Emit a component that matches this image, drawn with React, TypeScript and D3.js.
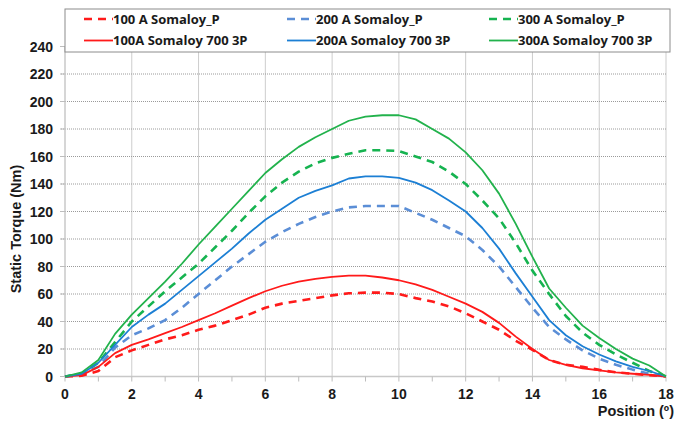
import React from 'react';
import * as d3 from 'd3';

// Rotor position (degrees)
const positions = [0, 0.5, 1, 1.5, 2, 2.5, 3, 3.5, 4, 4.5, 5, 5.5, 6, 6.5, 7, 7.5, 8, 8.5, 9, 9.5, 10, 10.5, 11, 11.5, 12, 12.5, 13, 13.5, 14, 14.5, 15, 15.5, 16, 16.5, 17, 17.5, 18];

// Static torque (Nm) per series
const p100 = [0, 0.5, 4, 14, 19, 23, 27, 30, 34, 37, 41, 45, 50, 53, 55, 57, 59, 60.5, 61, 61, 60, 57, 54.5, 51, 46, 40, 34, 26, 19.4, 12, 8.5, 7, 4.8, 3, 2, 1, 0];
const p200 = [0, 2, 7, 21, 30, 35, 41, 50, 60, 70, 80, 89, 98, 105, 111, 116, 120, 123, 124, 124, 124, 119, 114, 108, 102, 92, 80, 65, 50, 36, 27, 19, 13, 8.5, 5, 2, 0];
const p300 = [0, 2, 10, 25, 40, 51, 62, 72, 82, 94, 106, 119, 131, 141, 149, 155, 159, 162, 164.5, 164.5, 164, 160, 156, 149, 140, 128, 115, 97, 77, 60, 44, 32, 23, 16, 10, 4, 0];
const s100 = [0, 1, 7, 17, 23, 27, 31.5, 36, 41, 46, 51.5, 57, 62, 66, 69, 71, 72.5, 73.4, 73.4, 72, 70, 67, 63, 58, 53, 47, 39, 29, 20, 12, 8.5, 6, 4.4, 3, 2, 1.2, 0];
const s200 = [0, 2, 10, 23, 36, 45, 53, 63, 73, 83, 93, 104, 114, 122, 130, 135, 139, 144, 145.5, 145.5, 144.5, 141, 135.5, 128, 120, 108, 93, 75, 58, 41, 30, 22, 16, 11, 7, 4, 0];
const s300 = [0, 3, 12, 31, 45, 57, 69, 82, 96, 109, 122, 135, 148, 158, 167, 174, 180, 186, 189, 190, 190, 187, 180, 173, 163, 150, 133, 111, 87, 64, 50, 37, 28, 20, 13, 8, 0];

const seriesNames = ['100 A Somaloy_P', '200 A Somaloy_P', '300 A Somaloy_P', '100A Somaloy 700 3P', '200A Somaloy 700 3P', '300A Somaloy 700 3P'];
const seriesValues = [p100, p200, p300, s100, s200, s300];
const seriesColors = ['#ff1a1a', '#5b8ed6', '#16b350', '#ff1a1a', '#1c7fd4', '#22b24c'];
const seriesDashed = [true, true, true, false, false, false];

const yTicks = d3.range(0, 241, 20);
const xTicks = d3.range(0, 19, 2);
const xMinor = d3.range(0, 19, 1);

const W = 675;
const H = 423;
const font = '"Liberation Sans", Arial, sans-serif';
const legendFont = '"Open Sans", "Liberation Sans", sans-serif';

export default function App() {
  const x = d3.scaleLinear().domain([0, 18]).range([65, 666]);
  const y = d3.scaleLinear().domain([0, 240]).range([376.5, 46.5]);

  const lineFn = d3.line<number>()
    .x((_, i) => x(positions[i]))
    .y(d => y(d));

  return (
    <svg width={W} height={H} style={{ position: 'absolute', left: 0, top: 0 }}>
      <rect width={W} height={H} fill="#fff" />

      {/* horizontal grid */}
      {yTicks.map(t => (
        <line key={'hy' + t} x1={x(0) - 4} x2={x(18)} y1={y(t)} y2={y(t)}
          stroke="#9a9a9a" strokeWidth={1} strokeDasharray="1,1" />
      ))}
      {/* vertical grid */}
      {xTicks.filter(t => t > 0).map(t => (
        <line key={'vx' + t} x1={x(t)} x2={x(t)} y1={y(240)} y2={y(0)}
          stroke="#9a9a9a" strokeWidth={1} strokeDasharray="1,1" />
      ))}

      {/* axes */}
      <line x1={x(0)} x2={x(0)} y1={y(240)} y2={y(0)} stroke="#c8c8c8" strokeWidth={1.5} />
      <line x1={x(0)} x2={x(18)} y1={y(0)} y2={y(0)} stroke="#c8c8c8" strokeWidth={1.5} />
      {yTicks.map(t => (
        <line key={'ty' + t} x1={x(0) - 5} x2={x(0)} y1={y(t)} y2={y(t)} stroke="#bdbdbd" />
      ))}
      {xMinor.map(t => (
        <line key={'tx' + t} x1={x(t)} x2={x(t)} y1={y(0)} y2={y(0) + 5} stroke="#bdbdbd" />
      ))}

      {/* series */}
      {seriesValues.map((vals, i) => (
        <path key={'s' + i} d={lineFn(vals) || ''} fill="none"
          stroke={seriesColors[i]}
          strokeWidth={seriesDashed[i] ? 2.6 : 1.8}
          strokeDasharray={seriesDashed[i] ? '8,6' : undefined}
          strokeLinejoin="round" />
      ))}

      {/* tick labels */}
      {yTicks.map(t => (
        <text key={'ly' + t} x={53} y={y(t)} dy="0.36em" textAnchor="end"
          fontFamily={font} fontWeight="bold" fontSize={14} fill="#1a1a1a">{t}</text>
      ))}
      {xTicks.map(t => (
        <text key={'lx' + t} x={x(t)} y={399} textAnchor="middle"
          fontFamily={font} fontWeight="bold" fontSize={14} fill="#1a1a1a">{t}</text>
      ))}

      {/* axis titles */}
      <text transform={`translate(21, 229) rotate(-90)`} textAnchor="middle"
        fontFamily={font} fontWeight="bold" fontSize={14.5} fill="#1a1a1a">Static Torque (Nm)</text>
      <text x={674} y={416} textAnchor="end"
        fontFamily={font} fontWeight="bold" fontSize={14.5} fill="#1a1a1a">Position (º)</text>

      {/* legend */}
      <rect x={65} y={9} width={605} height={43} fill="#fff" stroke="#8c8c8c" strokeWidth={1} />
      {seriesNames.map((name, i) => {
        const col = i % 3;
        const row = Math.floor(i / 3);
        const lx = [84, 287, 489][col];
        const ly = 19 + row * 21.5;
        return (
          <g key={'lg' + i}>
            <line x1={lx} x2={lx + 29} y1={ly} y2={ly} stroke={seriesColors[i]}
              strokeWidth={seriesDashed[i] ? 2.6 : 1.8}
              strokeDasharray={seriesDashed[i] ? '8,6' : undefined} />
            <text x={lx + 29} y={ly} dy="0.35em" fontFamily={legendFont} fontWeight="bold"
              fontSize={13} fill="#1a1a1a">{name}</text>
          </g>
        );
      })}
    </svg>
  );
}
